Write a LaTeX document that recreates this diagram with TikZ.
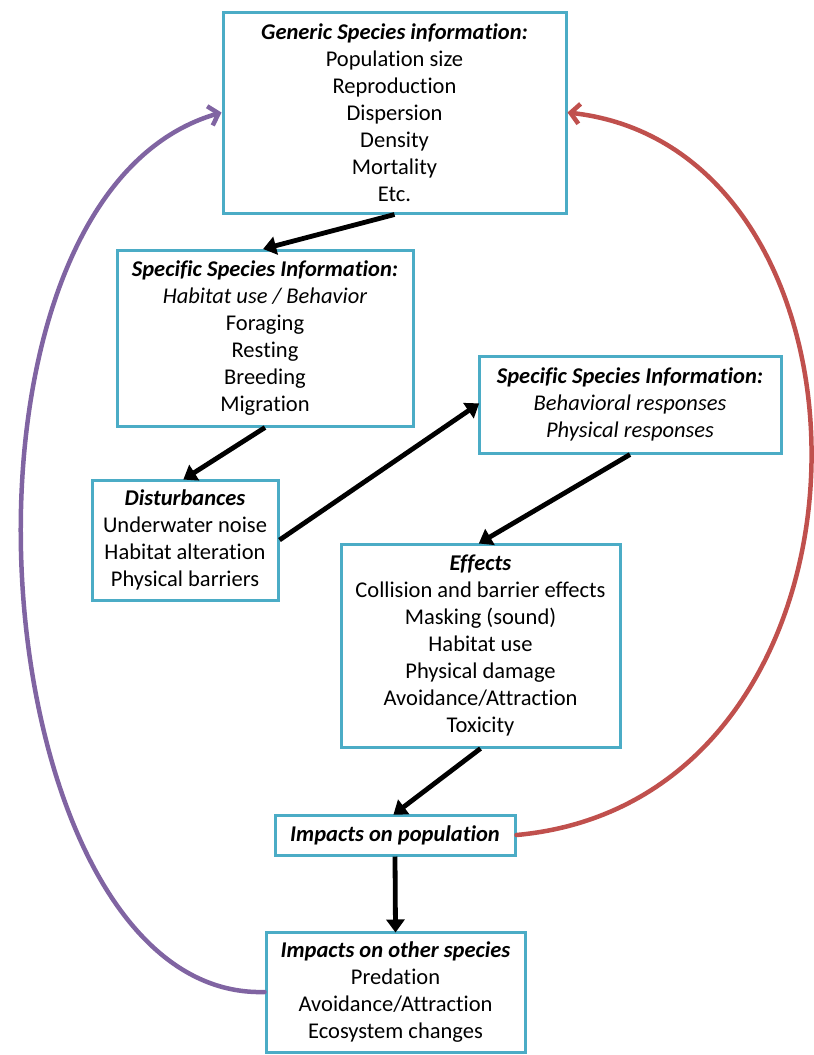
\documentclass[tikz,border=0pt]{standalone}
\usepackage{fontspec}
\setmainfont{Carlito}[Ligatures=NoCommon]
\usetikzlibrary{arrows.meta}
\definecolor{boxline}{HTML}{4BACC6}
\definecolor{loopred}{HTML}{C0504D}
\definecolor{looppurple}{HTML}{8064A2}
\begin{document}
\begin{tikzpicture}[x=1pt,y=-1pt,
  infobox/.style={draw=boxline, line width=3pt, fill=white, align=center,
    inner sep=0pt, font=\fontsize{22.5}{27}\selectfont},
  flow/.style={line width=4.8pt, -{Triangle[length=13pt,width=18pt]}, shorten >=-2pt},
  loop/.style={line width=4.5pt, line cap=round,
    -{Straight Barb[length=9pt,width=20pt,line width=4.5pt]}}]
\useasboundingbox (0,0) rectangle (814,1055);

\node[infobox, minimum width=343pt, minimum height=201pt] (gen) at (394.5,112.5)
  {\textbf{\textit{Generic Species information:}}\\ Population size\\ Reproduction\\
   Dispersion\\ Density\\ Mortality\\ Etc.};
\node[infobox, minimum width=296pt, minimum height=176pt] (spec1) at (265,338)
  {\textbf{\textit{Specific Species Information:}}\\ \textit{Habitat use / Behavior}\\
   Foraging\\ Resting\\ Breeding\\ Migration};
\node[infobox, minimum width=186pt, minimum height=120pt] (dist) at (185,540)
  {\textbf{\textit{Disturbances}}\\ Underwater noise\\ Habitat alteration\\ Physical barriers};
\node[infobox, minimum width=302pt, minimum height=97pt] (spec2) at (630,404.5)
  {\textbf{\textit{Specific Species Information:}}\\ \textit{Behavioral responses}\\
   \textit{Physical responses}};
\node[infobox, minimum width=279pt, minimum height=203pt] (eff) at (480.5,645.5)
  {\textbf{\textit{Effects}}\\ Collision and barrier effects\\ Masking (sound)\\
   Habitat use\\ Physical damage\\ Avoidance/Attraction\\ Toxicity};
\node[infobox, minimum width=240pt, minimum height=40pt] (pop) at (395,835)
  {\textbf{\textit{Impacts on population}}};
\node[infobox, minimum width=259pt, minimum height=120pt] (oth) at (395.5,992)
  {\textbf{\textit{Impacts on other species}}\\ Predation\\ Avoidance/Attraction\\
   Ecosystem changes};

% main chain
\draw[flow] (gen.south) -- (spec1.north);
\draw[flow] (spec1.south) -- (dist.north);
\draw[flow] (dist.east) -- (spec2.west);
\draw[flow] (spec2.south) -- (eff.north);
\draw[flow] (eff.south) -- (pop.north);
\draw[flow] (pop.south) -- (oth.north);

% feedback loops
\draw[loop, looppurple] (oth.west) .. controls (-20,1000) and (-80,200) .. (gen.west);
\draw[loop, loopred] (pop.east) .. controls (900,800) and (900,150) .. (gen.east);
\end{tikzpicture}
\end{document}
